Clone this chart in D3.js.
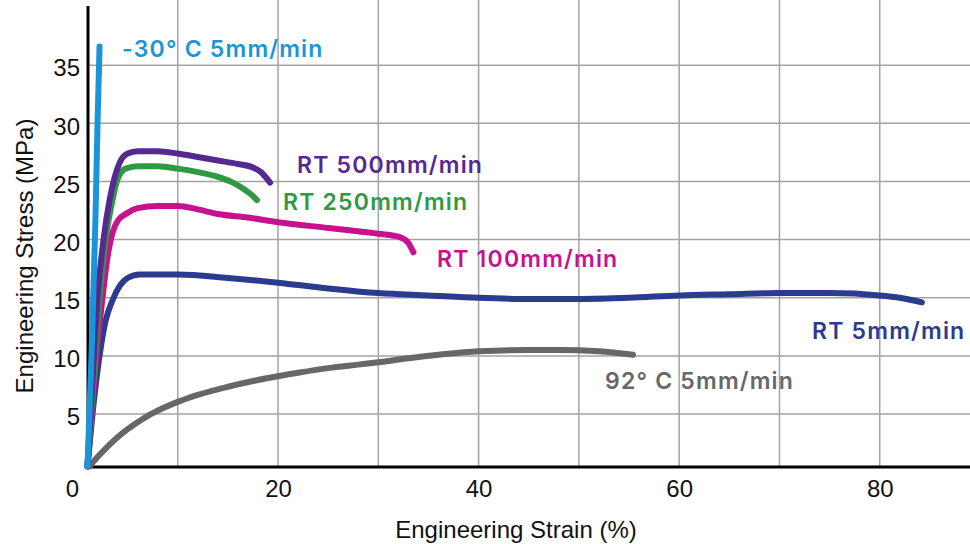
<!DOCTYPE html>
<html>
<head>
<meta charset="utf-8">
<script src="https://cdn.jsdelivr.net/npm/d3@7"></script>
<style>
	body { margin: 0; background: #fff; }
	svg { display: block; }
	.tick text { font-family: "Liberation Sans", Arial, sans-serif; font-size: 24px; fill: #111; }
	.curve-label { font-family: Inter, "Open Sans", sans-serif; font-weight: 600; font-size: 23px; letter-spacing: 1.2px; }
	.axis-title { font-family: "Liberation Sans", Arial, sans-serif; font-size: 24px; fill: #111; }
</style>
</head>
<body>
<svg id="chart" width="970" height="544"></svg>
<script>
/* strain (%) and stress (MPa) for each test */
var strain_m30 = [1.0, 1.4, 1.8, 2.0, 2.2];
var stress_m30 = [0.5, 10, 22, 30, 36.6];

var strain_rt500 = [1.0, 1.5, 2.0, 2.6, 3.2, 3.6, 4.2, 5.0, 6, 8, 10, 12, 14, 16, 17.5, 18.3, 19.2];
var stress_rt500 = [0.5, 8, 15, 20, 23.4, 25, 26.6, 27.4, 27.6, 27.6, 27.4, 27.1, 26.8, 26.5, 26.2, 25.8, 24.9];

var strain_rt250 = [1.0, 1.6, 2.2, 2.8, 3.4, 4.0, 4.8, 6, 8, 10, 12, 14, 15.5, 16.5, 17.3, 17.9];
var stress_rt250 = [0.5, 8, 15, 20, 23, 25.2, 26.1, 26.3, 26.3, 26.1, 25.8, 25.4, 24.9, 24.4, 23.9, 23.4];

var strain_rt100 = [1.0, 1.5, 2.0, 2.5, 3.0, 3.5, 4.0, 5, 6, 8, 10, 12, 14, 17, 20, 25, 30, 32.2, 33, 33.5];
var stress_rt100 = [0.5, 6, 11, 15, 18.5, 20.6, 21.6, 22.3, 22.7, 22.9, 22.9, 22.6, 22.2, 21.9, 21.5, 21.0, 20.5, 20.2, 19.7, 18.9];

var strain_rt5 = [1.0, 1.5, 2.2, 2.8, 3.5, 4.2, 5.0, 6.2, 10, 15, 20, 25, 30, 35, 40, 45, 50, 55, 60, 65, 70, 75, 80, 82, 84.2];
var stress_rt5 = [0.5, 5, 10, 13, 14.8, 16, 16.7, 17, 17, 16.7, 16.3, 15.8, 15.4, 15.2, 15.0, 14.9, 14.9, 15.0, 15.2, 15.3, 15.4, 15.4, 15.2, 15.0, 14.6];

var strain_92 = [1.2, 2, 3, 4, 5, 6, 7, 8.5, 10, 12, 15, 19, 22, 25, 28, 30, 33, 36, 40, 45, 48, 52, 55.4];
var stress_92 = [0.5, 1.3, 2.2, 3.0, 3.7, 4.3, 4.85, 5.5, 6.05, 6.65, 7.35, 8.1, 8.55, 8.95, 9.25, 9.45, 9.8, 10.1, 10.4, 10.5, 10.5, 10.4, 10.1];

var x_ticks = [0, 20, 40, 60, 80];
var y_ticks = [5, 10, 15, 20, 25, 30, 35];
var x_grid = [10, 20, 30, 40, 50, 60, 70, 80];

/* one entry per test: data, colour and label */
var tests = [
	{ name: "92° C 5mm/min", x: strain_92, y: stress_92, color: "#676767", lx: 605, ly: 389 },
	{ name: "RT 5mm/min", x: strain_rt5, y: stress_rt5, color: "#2b3c8e", lx: 812, ly: 339 },
	{ name: "RT 100mm/min", x: strain_rt100, y: stress_rt100, color: "#c6128f", lx: 437, ly: 267 },
	{ name: "RT 250mm/min", x: strain_rt250, y: stress_rt250, color: "#2f9a42", lx: 283, ly: 210 },
	{ name: "RT 500mm/min", x: strain_rt500, y: stress_rt500, color: "#55298f", lx: 297, ly: 173 },
	{ name: "-30° C 5mm/min", x: strain_m30, y: stress_m30, color: "#1b95d9", lx: 122, ly: 57 }
];

var svg = d3.select("#chart");

var x = d3.scaleLinear().domain([1.05, 89]).range([88, 970]);
var y = d3.scaleLinear().domain([0.45, 40.6]).range([467, 0]);

// grid lines
var grid = svg.append("g").attr("class", "grid");
grid.selectAll("line.v")
	.data(x_grid)
	.enter().append("line")
	.attr("x1", function(d) { return x(d); })
	.attr("x2", function(d) { return x(d); })
	.attr("y1", y.range()[1])
	.attr("y2", y.range()[0])
	.style("stroke", "#a3a3a3")
	.style("stroke-width", 1.5);
grid.selectAll("line.h")
	.data(y_ticks)
	.enter().append("line")
	.attr("x1", x.range()[0])
	.attr("x2", x.range()[1])
	.attr("y1", function(d) { return y(d); })
	.attr("y2", function(d) { return y(d); })
	.style("stroke", "#a3a3a3")
	.style("stroke-width", 1.5);

// axes
var xAxis = svg.append("g")
	.attr("transform", "translate(0," + y.range()[0] + ")")
	.call(d3.axisBottom(x).tickValues(x_ticks).tickSize(0).tickPadding(13));
xAxis.select(".domain").remove();
xAxis.selectAll(".tick text").attr("dy", "0.71em");
xAxis.selectAll(".tick").filter(function(d) { return d == 0; })
	.attr("transform", "translate(" + (x(0) - 5) + ",0)");

var yAxis = svg.append("g")
	.attr("transform", "translate(" + x.range()[0] + ",0)")
	.call(d3.axisLeft(y).tickValues(y_ticks).tickSize(0).tickPadding(8));
yAxis.select(".domain").remove();
yAxis.selectAll(".tick text").attr("dy", "0.45em");

// axis lines drawn on top of the grid
svg.append("line")
	.attr("x1", x.range()[0]).attr("x2", x.range()[1])
	.attr("y1", y.range()[0]).attr("y2", y.range()[0])
	.style("stroke", "#000").style("stroke-width", 3);
svg.append("line")
	.attr("x1", x.range()[0]).attr("x2", x.range()[0])
	.attr("y1", 6).attr("y2", y.range()[0] + 1.5)
	.style("stroke", "#000").style("stroke-width", 3);

// axis titles
svg.append("text")
	.attr("class", "axis-title")
	.attr("x", 516)
	.attr("y", 538)
	.attr("text-anchor", "middle")
	.text("Engineering Strain (%)");

svg.append("text")
	.attr("class", "axis-title")
	.attr("transform", "translate(33,256) rotate(-90)")
	.attr("text-anchor", "middle")
	.text("Engineering Stress (MPa)");

// curves
var line = d3.line()
	.x(function(d) { return x(d[0]); })
	.y(function(d) { return y(d[1]); })
	.curve(d3.curveMonotoneX);

tests.forEach(function(t) {
	var pts = t.x.map(function(v, i) { return [v, t.y[i]]; });

	svg.append("path")
		.datum(pts)
		.attr("d", line)
		.style("fill", "none")
		.style("stroke", t.color)
		.style("stroke-width", 6)
		.style("stroke-linecap", "round")
		.style("stroke-linejoin", "round");

	svg.append("text")
		.attr("class", "curve-label")
		.attr("x", t.lx)
		.attr("y", t.ly)
		.style("fill", t.color)
		.text(t.name);
});
</script>
</body>
</html>
